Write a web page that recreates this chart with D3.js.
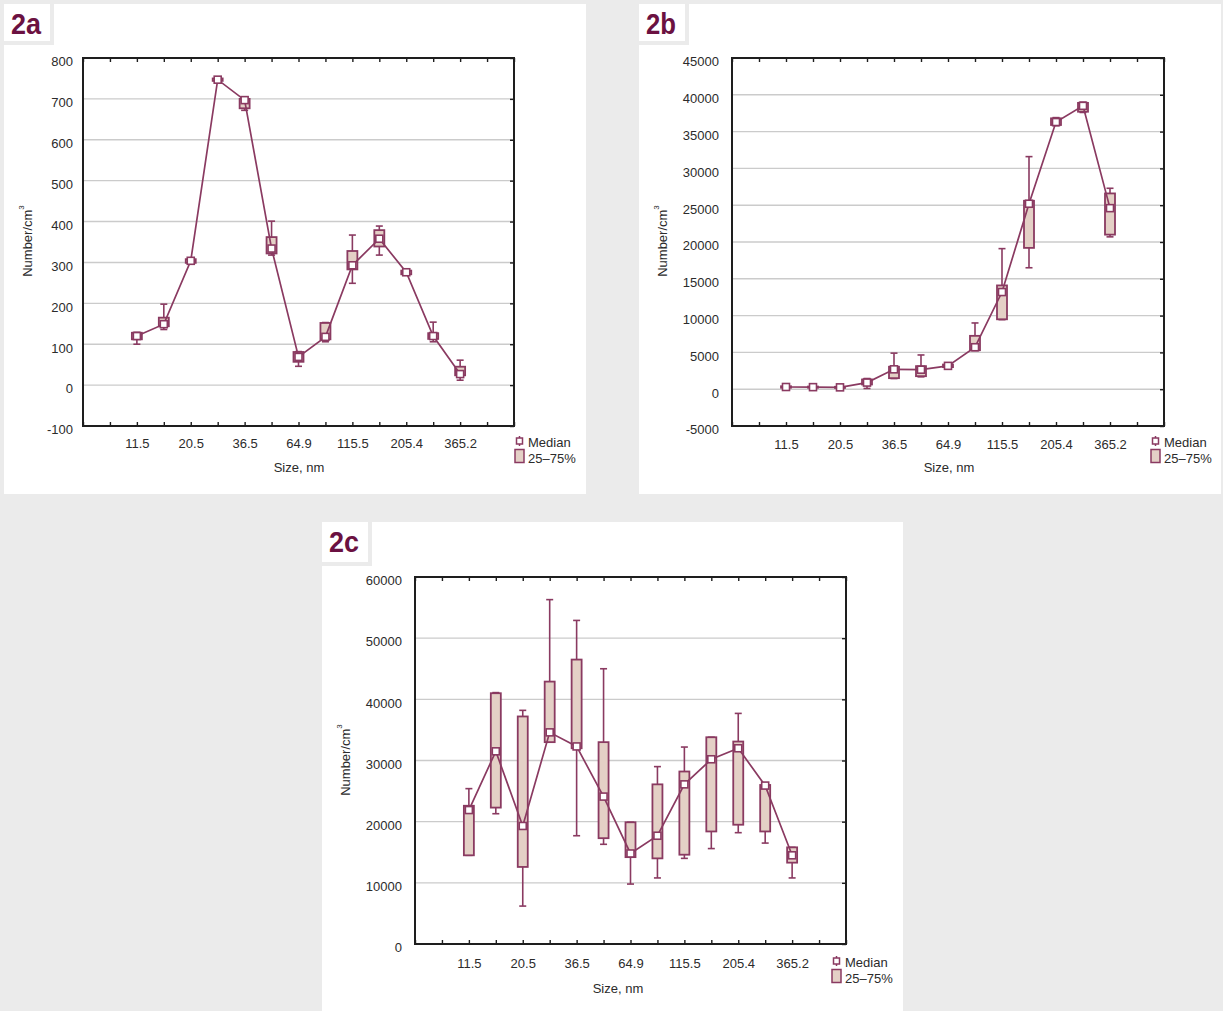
<!DOCTYPE html>
<html>
<head>
<meta charset="utf-8">
<script src="https://cdn.jsdelivr.net/npm/d3@7"></script>
<style>
  html, body { margin: 0; padding: 0; background: #ebebeb; }
  svg { display: block; }
  text { font-family: "Liberation Sans", Arial, Helvetica, sans-serif; }
</style>
</head>
<body>
<svg id="fig" width="1223" height="1011"></svg>
<script>
// Particle size classes (nm); every other class carries a tick label
const sizeLabels = ["11.5", "", "20.5", "", "36.5", "", "64.9", "", "115.5", "", "205.4", "", "365.2"];

// Panel 2a — number concentration per size class
const medianA = [120, 149, 304, 747, 697, 334, 69, 118, 293, 358, 276, 120, 27];
const q1A     = [112, 144, 299, 744, 677, 322, 57, 112, 283, 339, 271, 113, 24];
const q3A     = [128, 165, 308, 750, 700, 362, 81, 152, 328, 379, 280, 127, 45];
const minA    = [100, 136, 297, 742, 672, 318, 46, 106, 249, 318, 270, 106, 12];
const maxA    = [129, 198, 309, 751, 701, 401, 82, 153, 367, 389, 281, 154, 61];
const yTicksA = [-100, 0, 100, 200, 300, 400, 500, 600, 700, 800];

// Panel 2b
const medianB = [300, 280, 250, 900, 2700, 2650, 3170, 5700, 13200, 25200, 36300, 38500, 24600];
const q1B     = [200, 200, 170, 640, 1500, 1770, 3000, 5300, 9500, 19200, 35900, 37700, 21000];
const q3B     = [400, 360, 330, 1320, 3050, 3130, 3350, 7250, 14100, 25600, 36800, 38900, 26600];
const minB    = [150, 150, 150, 100, 1450, 1680, 2950, 5250, 9450, 16500, 35800, 37600, 20700];
const maxB    = [450, 400, 350, 1450, 4900, 4650, 3400, 9000, 19100, 31600, 36900, 39000, 27300];
const yTicksB = [-5000, 0, 5000, 10000, 15000, 20000, 25000, 30000, 35000, 40000, 45000];

// Panel 2c
const medianC = [21900, 31500, 19300, 34600, 32300, 24100, 14800, 17700, 26100, 30200, 32000, 25900, 14500];
const q1C     = [14500, 22300, 12600, 33000, 32000, 17300, 14200, 14000, 14600, 18400, 19500, 18400, 13300];
const q3C     = [22600, 41000, 37200, 42900, 46500, 33000, 19900, 26100, 28200, 33800, 33100, 26000, 15800];
const minC    = [14500, 21300, 6200, 33000, 17700, 16300, 9800, 10800, 14000, 15600, 18200, 16500, 10800];
const maxC    = [25400, 41100, 38200, 56300, 52900, 45000, 19900, 29000, 32200, 33800, 37700, 26000, 15800];
const yTicksC = [0, 10000, 20000, 30000, 40000, 50000, 60000];

const PURPLE = "#8a3a61";
const BOX_FILL = "#e4d0c6";
const BG = "#ebebeb";
const TEXT = "#2b2b2b";

const svg = d3.select("#fig");

function drawPanel(p) {
  const g = svg.append("g");

  // white card with a separated tab for the panel tag
  g.append("rect").attr("x", p.card[0]).attr("y", p.card[1])
    .attr("width", p.card[2]).attr("height", p.card[3]).attr("fill", "#fff");
  g.append("rect").attr("x", p.card[0] + p.tab[0]).attr("y", p.card[1])
    .attr("width", 4).attr("height", p.tab[1] + 4).attr("fill", BG);
  g.append("rect").attr("x", p.card[0]).attr("y", p.card[1] + p.tab[1])
    .attr("width", p.tab[0] + 4).attr("height", 4).attr("fill", BG);
  g.append("text").attr("x", p.card[0] + 7).attr("y", p.card[1] + p.tagBase)
    .attr("font-size", 30).attr("font-weight", "bold").attr("fill", "#6b1141")
    .attr("textLength", 30).attr("lengthAdjust", "spacingAndGlyphs")
    .text(p.tag);

  const x = d3.scaleLinear().domain([-2, 14]).range([p.l, p.r]);
  const y = d3.scaleLinear().domain(p.yDomain).range([p.b, p.t]);
  const xTickIdx = d3.range(-2, 15);

  // horizontal grid
  g.append("g").selectAll("line").data(p.yTicks).join("line")
    .attr("x1", p.l).attr("x2", p.r)
    .attr("y1", d => y(d)).attr("y2", d => y(d))
    .attr("stroke", "#cbcbcb").attr("stroke-width", 1.4);

  const styleAxis = sel => {
    sel.attr("font-family", null).attr("font-size", null);
    sel.select(".domain").remove();
    sel.selectAll(".tick line").attr("stroke", "#1e1e1e").attr("stroke-width", 1.4);
    sel.selectAll(".tick text").attr("fill", TEXT).attr("font-size", 13);
  };

  g.append("g").attr("transform", `translate(0,${p.b})`)
    .call(d3.axisBottom(x).tickValues(xTickIdx).tickSize(-4).tickPadding(p.xPad)
      .tickFormat(i => (i >= 0 && i < sizeLabels.length) ? sizeLabels[i] : ""))
    .call(styleAxis);
  g.append("g").attr("transform", `translate(0,${p.t})`)
    .call(d3.axisTop(x).tickValues(xTickIdx).tickSize(-4).tickFormat(""))
    .call(styleAxis);
  g.append("g").attr("transform", `translate(${p.r},0)`)
    .call(d3.axisRight(y).tickValues(p.yTicks).tickSize(-4).tickFormat(""))
    .call(styleAxis);
  g.append("g").attr("transform", `translate(${p.l},0)`)
    .call(d3.axisLeft(y).tickValues(p.yTicks).tickSize(0).tickPadding(p.yPad).tickFormat(d => String(d)))
    .call(styleAxis)
    .call(sel => sel.selectAll(".tick text").attr("dy", "0.6em"));

  // plot frame
  g.append("rect").attr("x", p.l).attr("y", p.t)
    .attr("width", p.r - p.l).attr("height", p.b - p.t)
    .attr("fill", "none").attr("stroke", "#1e1e1e").attr("stroke-width", 2);

  const idx = d3.range(p.median.length);

  // whiskers (min–max) with caps
  const wk = g.append("g").attr("stroke", PURPLE).attr("stroke-width", 1.6);
  wk.selectAll(".stem").data(idx).join("line")
    .attr("x1", i => x(i)).attr("x2", i => x(i))
    .attr("y1", i => y(p.min[i])).attr("y2", i => y(p.max[i]));
  wk.selectAll(".capHi").data(idx).join("line")
    .attr("x1", i => x(i) - 3.5).attr("x2", i => x(i) + 3.5)
    .attr("y1", i => y(p.max[i])).attr("y2", i => y(p.max[i]));
  wk.selectAll(".capLo").data(idx).join("line")
    .attr("x1", i => x(i) - 3.5).attr("x2", i => x(i) + 3.5)
    .attr("y1", i => y(p.min[i])).attr("y2", i => y(p.min[i]));

  // 25–75% boxes
  g.append("g").selectAll("rect").data(idx).join("rect")
    .attr("x", i => x(i) - 5).attr("width", 10)
    .attr("y", i => y(p.q3[i]))
    .attr("height", i => Math.max(1, y(p.q1[i]) - y(p.q3[i])))
    .attr("fill", BOX_FILL).attr("stroke", PURPLE).attr("stroke-width", 1.8);

  // median line and markers
  g.append("path").datum(p.median)
    .attr("d", d3.line().x((d, i) => x(i)).y(d => y(d)))
    .attr("fill", "none").attr("stroke", PURPLE).attr("stroke-width", 1.7);
  g.append("g").selectAll("rect").data(idx).join("rect")
    .attr("x", i => x(i) - 3.5).attr("y", i => y(p.median[i]) - 3.5)
    .attr("width", 7).attr("height", 7)
    .attr("fill", "#fff").attr("stroke", PURPLE).attr("stroke-width", 1.6);

  // axis titles
  g.append("text").attr("x", p.xTitle[0]).attr("y", p.xTitle[1])
    .attr("text-anchor", "middle").attr("font-size", 13).attr("fill", TEXT)
    .text("Size, nm");
  const yt = g.append("text")
    .attr("transform", `translate(${p.yTitle[0]},${p.yTitle[1]}) rotate(-90)`)
    .attr("text-anchor", "middle").attr("dy", "0.35em")
    .attr("font-size", 13).attr("fill", TEXT);
  yt.append("tspan").text("Number/cm");
  yt.append("tspan").attr("font-size", 8).attr("dy", "-0.9em").text("3");

  // legend
  const lx = p.legend[0], ly = p.legend[1];
  g.append("line").attr("x1", lx + 4.5).attr("x2", lx + 4.5)
    .attr("y1", ly - 11).attr("y2", ly - 1)
    .attr("stroke", PURPLE).attr("stroke-width", 1.5);
  g.append("rect").attr("x", lx + 1.5).attr("y", ly - 9).attr("width", 6).attr("height", 6)
    .attr("fill", "#fff").attr("stroke", PURPLE).attr("stroke-width", 1.5);
  g.append("text").attr("x", lx + 13).attr("y", ly).attr("font-size", 13).attr("fill", TEXT)
    .text("Median");
  g.append("rect").attr("x", lx).attr("y", ly + 2.5).attr("width", 9).attr("height", 13)
    .attr("fill", BOX_FILL).attr("stroke", PURPLE).attr("stroke-width", 1.5);
  g.append("text").attr("x", lx + 13).attr("y", ly + 15.5).attr("font-size", 13).attr("fill", TEXT)
    .text("25–75%");
}

drawPanel({
  tag: "2a", card: [4, 4, 582, 490], tab: [46, 37], tagBase: 29.5,
  l: 83, r: 514, t: 58, b: 426, yDomain: [-100, 800], yTicks: yTicksA,
  xPad: 13, yPad: 10,
  median: medianA, q1: q1A, q3: q3A, min: minA, max: maxA,
  xTitle: [299, 472], yTitle: [27, 241], legend: [515, 447]
});

drawPanel({
  tag: "2b", card: [639, 4, 582, 490], tab: [46, 37], tagBase: 29.5,
  l: 732, r: 1164, t: 58, b: 426, yDomain: [-5000, 45000], yTicks: yTicksB,
  xPad: 14, yPad: 13,
  median: medianB, q1: q1B, q3: q3B, min: minB, max: maxB,
  xTitle: [949, 472], yTitle: [662, 241], legend: [1151, 447]
});

drawPanel({
  tag: "2c", card: [322, 522, 581, 489], tab: [46, 40], tagBase: 30,
  l: 415, r: 846, t: 577, b: 944, yDomain: [0, 60000], yTicks: yTicksC,
  xPad: 15, yPad: 13,
  median: medianC, q1: q1C, q3: q3C, min: minC, max: maxC,
  xTitle: [618, 993], yTitle: [345, 760], legend: [832, 967]
});
</script>
</body>
</html>
